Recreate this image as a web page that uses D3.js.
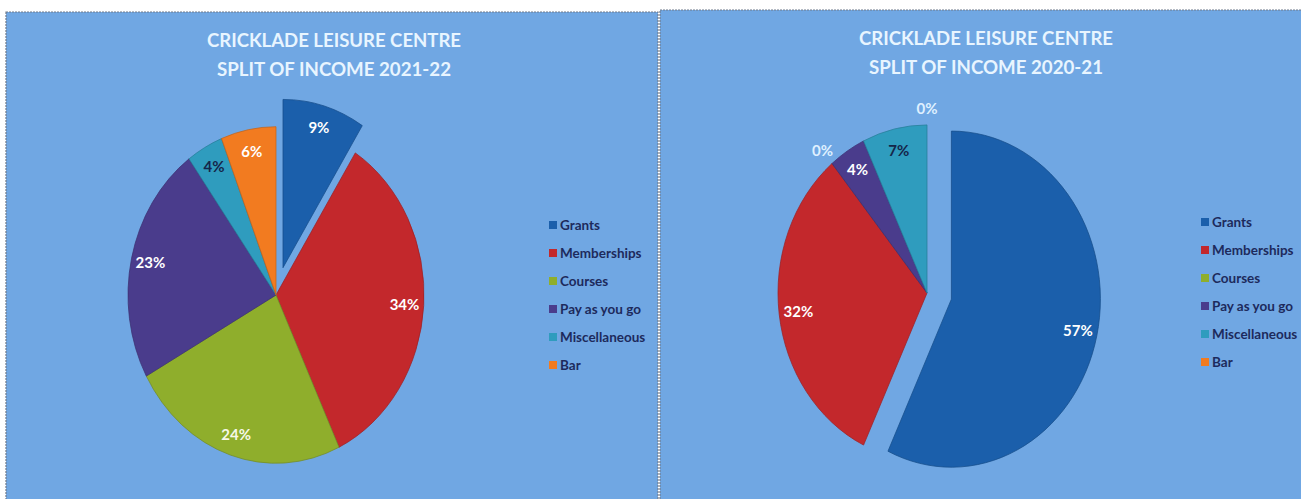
<!DOCTYPE html>
<html lang="en">
<head>
<meta charset="utf-8">
<title>Cricklade Leisure Centre - Split of Income</title>
<script src="https://d3js.org/d3.v7.min.js"></script>
<style>
* { margin: 0; padding: 0; }
body { background: #fff; font-family: 'Lato', 'Open Sans', sans-serif; }
</style>
</head>
<body>
<script>
// data
const categories = ["Grants", "Memberships", "Courses", "Pay as you go", "Miscellaneous", "Bar"];
const income2122 = [9, 34, 24, 23, 4, 6];
const income2021 = [57, 32, 0, 4, 7, 0];
const titles2122 = ["CRICKLADE LEISURE CENTRE", "SPLIT OF INCOME 2021-22"];
const titles2021 = ["CRICKLADE LEISURE CENTRE", "SPLIT OF INCOME 2020-21"];

let w = 1301, h = 499;
let sliceColors = ["#1b5fab", "#c3282c", "#8fae2c", "#4a3c8c", "#2f9cbe", "#f27b20"];
let labelColors = ["#ffffff", "#ffffff", "#f6f8e8", "#ffffff", "#15264a", "#ffffff"];

let colorScale = d3.scaleOrdinal().domain(categories).range(sliceColors);

let svg = d3.select("body").append("svg")
  .attr("width", w)
  .attr("height", h);

svg.append("rect").attr("width", w).attr("height", h).attr("fill", "#fff");

// panel settings: each chart is its own box
let panels = [
  {x: 6, y: 12, width: 652, height: 492, values: income2122, titles: titles2122,
   cx: 276, cy: 295, r: 148, k: 1.137, titleX: 334, legendX: 549, legendY: 225},
  {x: 660, y: 10, width: 646, height: 494, values: income2021, titles: titles2021,
   cx: 927, cy: 293, r: 149, k: 1.128, titleX: 986, legendX: 1201, legendY: 222}
];

let explode = 25;   // grants slice pulled out
let legendGap = 28;

let pie = d3.pie().sort(null).value(d => d.value);

panels.forEach(function(p) {
  let g = svg.append("g");

  g.append("rect")
    .attr("x", p.x).attr("y", p.y)
    .attr("width", p.width).attr("height", p.height)
    .attr("fill", "#70a7e3")
    .attr("stroke", "#6f7b8c")
    .attr("stroke-width", 1.2)
    .attr("stroke-dasharray", "2,1");

  // title
  g.selectAll(".title")
    .data(p.titles)
    .enter().append("text")
    .attr("x", p.titleX)
    .attr("y", (d, i) => p.y + 35 + i * 29)
    .attr("text-anchor", "middle")
    .attr("font-size", 19)
    .attr("font-weight", "bold")
    .attr("fill", "#e8f5ff")
    .attr("textLength", (d, i) => i == 0 ? 254 : 234)
    .attr("lengthAdjust", "spacingAndGlyphs")
    .text(d => d);

  let data = categories.map((c, i) => ({name: c, value: p.values[i], idx: i}));
  let arcs = pie(data);

  let arc = d3.arc().innerRadius(0).outerRadius(p.r);

  function offset(d) {
    if (d.data.idx != 0) return [0, 0];
    let a = (d.startAngle + d.endAngle) / 2;
    return [explode * Math.sin(a), -explode * Math.cos(a)];
  }

  // pie drawn in a circle then squashed into the ellipse seen in the scan
  let pieG = g.append("g")
    .attr("transform", "translate(" + p.cx + "," + p.cy + ") scale(1," + p.k + ")");

  pieG.selectAll("path")
    .data(arcs.filter(d => d.value > 0))
    .enter().append("path")
    .attr("d", arc)
    .attr("transform", d => "translate(" + offset(d) + ")")
    .attr("fill", d => colorScale(d.data.name))
    .attr("stroke", d => d3.rgb(colorScale(d.data.name)).darker(0.6))
    .attr("stroke-width", 0.7);

  // labels: inside for real slices, outside for the zero ones
  g.selectAll(".lbl")
    .data(arcs)
    .enter().append("text")
    .attr("transform", function(d) {
      let a = (d.startAngle + d.endAngle) / 2;
      let rr = d.value > 0 ? p.r * 0.87 : p.r * 1.1;
      let o = offset(d);
      let x = p.cx + o[0] + rr * Math.sin(a);
      let y = p.cy + (o[1] - rr * Math.cos(a)) * p.k;
      return "translate(" + x + "," + y + ")";
    })
    .attr("dy", "0.36em")
    .attr("text-anchor", "middle")
    .attr("font-size", 15)
    .attr("font-weight", "bold")
    .attr("fill", d => d.value > 0 ? labelColors[d.data.idx] : "#dff0ff")
    .text(d => d.value + "%");

  // legend
  let leg = g.selectAll(".leg")
    .data(categories)
    .enter().append("g")
    .attr("transform", (d, i) => "translate(" + p.legendX + "," + (p.legendY + i * legendGap) + ")");

  leg.append("rect")
    .attr("x", 0).attr("y", -4)
    .attr("width", 8).attr("height", 8)
    .attr("fill", d => colorScale(d));

  leg.append("text")
    .attr("x", 11)
    .attr("dy", "0.36em")
    .attr("font-size", 13.5)
    .attr("font-weight", "bold")
    .attr("fill", "#1d2a5c")
    .text(d => d);
});
</script>
</body>
</html>
